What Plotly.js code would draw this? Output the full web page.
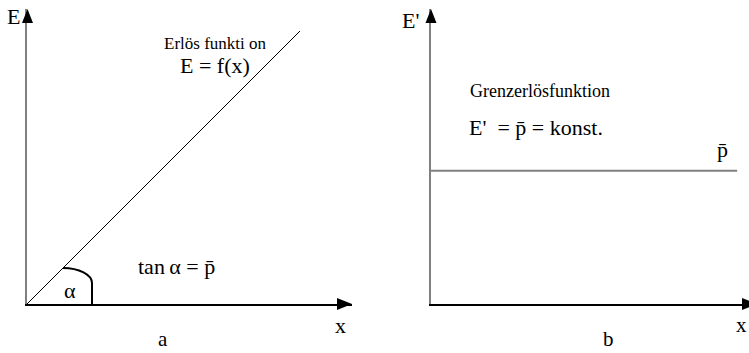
<!DOCTYPE html>
<html>
<head>
<meta charset="utf-8">
<script src="https://cdn.plot.ly/plotly-3.0.1.min.js"></script>
<style>html,body{margin:0;padding:0;background:#fff;}#chart{width:749px;height:353px;}</style>
</head>
<body>
<div id="chart"></div>
<script>
// ---- data ----
const xRevenue = [0, 8.4];          // Erlösfunktion E = p̄·x (tan α = p̄)
const revenue = [0, 8.4];
const xMarginal = [0, 9.42];        // Grenzerlösfunktion E' = p̄ = konst.
const marginal = [4.1, 4.1];
const panelLabels = ["a", "b"];

// ---- layout helpers ----
const W = 749, H = 353;
const px = v => v / W;
const py = v => 1 - v / H;

const font = "Liberation Serif";
const dom1x = [px(27), px(352)];
const dom2x = [px(431), 1];
const domy = [py(304), py(9)];
const unit = 32.5; // px per data unit (equal scaling for 45° line)

const traces = [
  {x: xRevenue, y: revenue, xaxis: 'x', yaxis: 'y', mode: 'lines',
   line: {color: '#000', width: 1}, hoverinfo: 'skip'},
  {x: xMarginal, y: marginal, xaxis: 'x2', yaxis: 'y2', mode: 'lines',
   line: {color: '#808080', width: 2}, hoverinfo: 'skip'}
];

const axisCommon = {showgrid: false, zeroline: false, showticklabels: false, ticks: '', fixedrange: true};
const yRange = [0, (304 - 9) / unit];

// angle arc (marker for α) in data coords of left panel
const aStart = 1.108, aEndX = 2.0, aMidY = 0.646;
const k = 0.552;
const arcPath = `M ${aStart},${aStart} C ${aStart + (aEndX - aStart) * k},${aStart} ${aEndX},${aMidY + (aStart - aMidY) * k} ${aEndX},${aMidY} L ${aEndX},0`;

function upArrow(xp, yTop) {
  return {type: 'path', xref: 'paper', yref: 'paper', fillcolor: '#000', line: {width: 0},
    path: `M ${px(xp)},${py(yTop)} L ${px(xp - 5.5)},${py(yTop + 14)} L ${px(xp + 5.5)},${py(yTop + 14)} Z`};
}
function rightArrow(xTip, yp) {
  return {type: 'path', xref: 'paper', yref: 'paper', fillcolor: '#000', line: {width: 0},
    path: `M ${px(xTip)},${py(yp)} L ${px(xTip - 15)},${py(yp - 6)} L ${px(xTip - 15)},${py(yp + 6)} Z`};
}

const shapes = [
  {type: 'path', xref: 'x', yref: 'y', path: arcPath, line: {color: '#000', width: 2}},
  upArrow(27.5, 9), rightArrow(352, 304),
  upArrow(431, 9), rightArrow(757, 304)
];

function ann(text, x, y, size, extra) {
  return Object.assign({text: text, x: px(x), y: py(y), xref: 'paper', yref: 'paper',
    showarrow: false, xanchor: 'center', yanchor: 'middle',
    font: {family: font, size: size, color: '#000'}}, extra || {});
}

const annotations = [
  ann('E', 13, 17, 22),
  ann('Erlös funkti on', 215, 44, 17),
  ann('E = f(x)', 215, 65, 22),
  ann('tan\u2009α = p\u0304', 176, 266, 22),
  ann('α', 70, 290, 22),
  ann('x', 340, 325, 22),
  ann(panelLabels[0], 163, 353, 21, {yanchor: 'bottom'}),
  ann("E'", 410, 20, 22),
  ann('Grenzerlösfunktion', 540, 91, 18),
  ann("E'  = p\u0304 = konst.", 536, 128, 22),
  ann('p\u0304', 722, 150, 22),
  ann('x', 749, 325, 21, {xanchor: 'right'}),
  ann(panelLabels[1], 608, 353, 21, {yanchor: 'bottom'})
];

const layout = {
  width: W, height: H,
  margin: {l: 0, r: 0, t: 0, b: 0},
  paper_bgcolor: '#fff', plot_bgcolor: 'rgba(0,0,0,0)',
  showlegend: false,
  font: {family: font},
  xaxis: Object.assign({}, axisCommon, {domain: dom1x, range: [0, 325 / unit], showline: true, linecolor: '#000', linewidth: 2}),
  yaxis: Object.assign({}, axisCommon, {domain: domy, range: yRange, showline: true, linecolor: '#808080', linewidth: 2}),
  xaxis2: Object.assign({}, axisCommon, {domain: dom2x, range: [0, 318 / unit], anchor: 'y2', showline: true, linecolor: '#000', linewidth: 2}),
  yaxis2: Object.assign({}, axisCommon, {domain: domy, range: yRange, anchor: 'x2', showline: true, linecolor: '#808080', linewidth: 2}),
  shapes: shapes,
  annotations: annotations
};

Plotly.newPlot('chart', traces, layout, {displayModeBar: false, staticPlot: true});
</script>
</body>
</html>
